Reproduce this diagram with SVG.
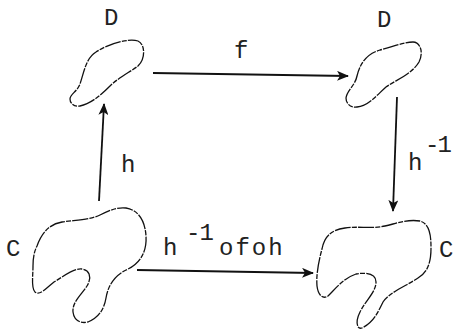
<svg xmlns="http://www.w3.org/2000/svg" width="454" height="333" viewBox="0 0 454 333">
<style>
  .blob { fill: none; stroke: #111; stroke-width: 1.3; stroke-dasharray: 16 1.2 5 1.2; stroke-linejoin: round; }
  .edge { fill: none; stroke: #111; stroke-width: 1.8; }
  .lbl { font-family: "Liberation Mono", "DejaVu Sans Mono", monospace; font-size: 24px; fill: #222; }
</style>
<defs>
  <marker id="ah" viewBox="0 0 12 10" refX="11" refY="5" markerWidth="12" markerHeight="10" markerUnits="userSpaceOnUse" orient="auto">
    <path d="M0,0 L12,5 L0,10 L3,5 Z" fill="#111"/>
  </marker>
</defs>
<rect width="454" height="333" fill="#fff"/>
<g id="connectors">
  <line class="edge" x1="99" y1="201" x2="104" y2="104" marker-end="url(#ah)"/>
  <line class="edge" x1="153" y1="73" x2="348" y2="76" marker-end="url(#ah)"/>
  <line class="edge" x1="397" y1="97" x2="393" y2="211" marker-end="url(#ah)"/>
  <line class="edge" x1="137" y1="270" x2="313" y2="273" marker-end="url(#ah)"/>
  <text class="lbl" x="234" y="58">f</text>
  <text class="lbl" x="121" y="172">h</text>
  <text class="lbl" x="408" y="170">h</text>
  <text class="lbl" x="425" y="152" letter-spacing="-2">-1</text>
  <text class="lbl" x="163" y="255">h</text>
  <text class="lbl" x="186" y="240" letter-spacing="-1">-1</text>
  <text class="lbl" x="219" y="255" letter-spacing="2">ofoh</text>
</g>
<g id="nodeD1">
  <path class="blob" d="M80,106 C90,104 100,96 110,86 C118,78 130,72 138,66 C146,58 145,44 138,41 C128,38 108,44 96,52 C86,58 84,72 80,84 C77,92 70,94 70,99 C70,104 75,107 80,106 Z"/>
  <text class="lbl" x="104" y="25">D</text>
</g>
<g id="nodeD2">
  <path class="blob" d="M357,107 C368,106 376,96 386,87 C396,80 412,74 419,62 C424,52 420,42 413,42 C404,42 392,47 380,50 C366,54 360,64 357,76 C355,86 347,90 346,98 C346,104 351,108 357,107 Z"/>
  <text class="lbl" x="377" y="27">D</text>
</g>
<g id="nodeC1">
  <path class="blob" d="M37,246 C42,232 50,224 62,222 C75,220 90,220 100,215 C110,210 118,207 126,208 C138,210 145,220 146,236 C147,252 140,264 126,270 C114,276 108,286 106,298 C104,310 98,318 88,322 C80,324 74,320 73,312 C72,302 82,294 87,286 C92,278 90,270 82,269 C74,268 64,276 54,282 C46,288 40,296 35,292 C31,288 33,276 33,266 C33,258 34,252 37,246 Z"/>
  <text class="lbl" x="6" y="256">C</text>
</g>
<g id="nodeC2">
  <path class="blob" d="M322,249 C324,238 330,230 345,228 C358,226 372,229 385,226 C398,223 408,219 420,221 C430,224 431,236 431,248 C431,262 428,272 418,278 C406,286 390,292 383,302 C378,312 374,322 362,328 C356,330 356,320 360,312 C366,300 376,292 376,282 C376,274 366,272 356,274 C344,278 336,288 328,296 C322,300 318,294 317,286 C316,274 319,260 322,249 Z"/>
  <text class="lbl" x="439" y="257">C</text>
</g>
</svg>
